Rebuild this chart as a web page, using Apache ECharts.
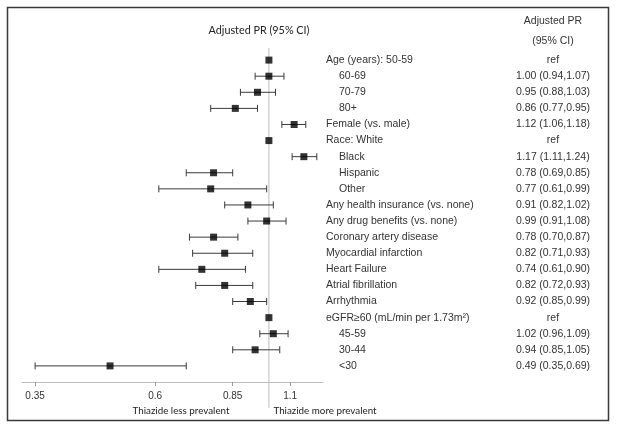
<!DOCTYPE html>
<html><head><meta charset="utf-8">
<script src="https://cdn.jsdelivr.net/npm/echarts@6/dist/echarts.min.js"></script>
<style>html,body{margin:0;padding:0;background:#fff}#c{width:617px;height:430px}</style>
</head><body><div id="c"></div>
<script>
// ---- data ----
const labels = [
  'Age (years): 50-59', '60-69', '70-79', '80+',
  'Female (vs. male)',
  'Race: White', 'Black', 'Hispanic', 'Other',
  'Any health insurance (vs. none)', 'Any drug benefits (vs. none)',
  'Coronary artery disease', 'Myocardial infarction', 'Heart Failure',
  'Atrial fibrillation', 'Arrhythmia',
  'eGFR\u226560 (mL/min per 1.73m\u00b2)', '45-59', '30-44', '<30'
];
const indented = [false, true, true, true, false, false, true, true, true,
  false, false, false, false, false, false, false, false, true, true, true];
const pr = [1, 1.00, 0.95, 0.86, 1.12, 1, 1.17, 0.78, 0.77, 0.91, 0.99,
  0.78, 0.82, 0.74, 0.82, 0.92, 1, 1.02, 0.94, 0.49];
const lo = [null, 0.94, 0.88, 0.77, 1.06, null, 1.11, 0.69, 0.61, 0.82, 0.91,
  0.70, 0.71, 0.61, 0.72, 0.85, null, 0.96, 0.85, 0.35];
const hi = [null, 1.07, 1.03, 0.95, 1.18, null, 1.24, 0.85, 0.99, 1.02, 1.08,
  0.87, 0.93, 0.90, 0.93, 0.99, null, 1.09, 1.05, 0.69];
const tickValues = [0.35, 0.6, 0.85, 1.1];
const tickLabels = ['0.35', '0.6', '0.85', '1.1'];
const axisMin = 0.33, axisMax = 1.275;

// ---- build ----
const ln = Math.log;
const fmt = v => v.toFixed(2);
const valueText = pr.map((p, i) => lo[i] == null ? 'ref' : fmt(p) + ' (' + fmt(lo[i]) + ',' + fmt(hi[i]) + ')');
const tickLn = tickValues.map(ln);
const calibri = 'Lato, "Open Sans", sans-serif';
const arial = '"Liberation Sans", Arial, sans-serif';

const chart = echarts.init(document.getElementById('c'), null, {renderer: 'canvas'});
const ciData = [];
pr.forEach((p, i) => { if (lo[i] != null) ciData.push([ln(lo[i]), i, ln(hi[i])]); });
const ptData = pr.map((p, i) => [ln(p), i]);

chart.setOption({
  animation: false,
  grid: {left: 22, right: 294, top: 44, height: 338},
  xAxis: {
    type: 'value', position: 'bottom', min: ln(axisMin), max: ln(axisMax),
    splitLine: {show: false},
    axisLine: {show: true, onZero: false, lineStyle: {color: '#bdbdbd', width: 1}},
    axisTick: {show: true, customValues: tickLn, length: 4, lineStyle: {color: '#9a9a9a'}},
    axisLabel: {
      customValues: tickLn, margin: 9, fontSize: 10, color: '#333', fontFamily: arial,
      formatter: v => {
        let best = 0;
        tickLn.forEach((t, k) => { if (Math.abs(t - v) < Math.abs(tickLn[best] - v)) best = k; });
        return tickLabels[best];
      }
    }
  },
  yAxis: {type: 'value', inverse: true, min: -1, max: 20, show: false},
  series: [
    {
      type: 'custom', name: 'refline', silent: true, z: 1,
      data: [[0, -0.75, 21.6]],
      renderItem: (params, api) => {
        const a = api.coord([api.value(0), api.value(1)]);
        const b = api.coord([api.value(0), api.value(2)]);
        return {type: 'line', shape: {x1: a[0], y1: a[1], x2: b[0], y2: b[1]},
          style: {stroke: '#bdbdbd', lineWidth: 1}};
      }
    },
    {
      type: 'custom', name: 'CI', silent: true, z: 2,
      data: ciData,
      renderItem: (params, api) => {
        const a = api.coord([api.value(0), api.value(1)]);
        const b = api.coord([api.value(2), api.value(1)]);
        const h = 3.5;
        const st = {stroke: '#3a3a3a', lineWidth: 1};
        return {type: 'group', children: [
          {type: 'line', shape: {x1: a[0], y1: a[1], x2: b[0], y2: b[1]}, style: st},
          {type: 'line', shape: {x1: a[0], y1: a[1] - h, x2: a[0], y2: a[1] + h}, style: st},
          {type: 'line', shape: {x1: b[0], y1: b[1] - h, x2: b[0], y2: b[1] + h}, style: st}
        ]};
      }
    },
    {
      type: 'scatter', name: 'PR', z: 3, symbol: 'rect', symbolSize: 7,
      itemStyle: {color: '#000'}, data: ptData
    },
    {
      type: 'custom', name: 'text', silent: true, z: 4,
      data: labels.map((l, i) => [0, i]),
      renderItem: (params, api) => {
        const i = params.dataIndex;
        const y = api.coord([0, api.value(1)])[1];
        return {type: 'group', children: [
          {type: 'text', x: indented[i] ? 339 : 326, y: y,
            style: {text: labels[i], fill: '#333', font: '10.5px ' + arial, textVerticalAlign: 'middle', textAlign: 'left'}},
          {type: 'text', x: 553, y: y,
            style: {text: valueText[i], fill: '#333', font: '10.5px ' + arial, textVerticalAlign: 'middle', textAlign: 'center'}}
        ]};
      }
    }
  ],
  graphic: [
    {type: 'rect', shape: {x: 7.5, y: 7.5, width: 601, height: 413},
      style: {fill: 'none', stroke: '#3a3a3a', lineWidth: 1.5}, silent: true},
    {type: 'text', x: 259, y: 31, style: {text: 'Adjusted PR (95% CI)', fill: '#222', font: '10.8px ' + calibri, textAlign: 'center', textVerticalAlign: 'middle'}},
    {type: 'text', x: 553, y: 21, style: {text: 'Adjusted PR', fill: '#333', font: '10.5px ' + arial, textAlign: 'center', textVerticalAlign: 'middle'}},
    {type: 'text', x: 553, y: 41, style: {text: '(95% CI)', fill: '#333', font: '10.5px ' + arial, textAlign: 'center', textVerticalAlign: 'middle'}},
    {type: 'text', x: 181, y: 411, style: {text: 'Thiazide less prevalent', fill: '#222', font: '9.8px ' + calibri, textAlign: 'center', textVerticalAlign: 'middle'}},
    {type: 'text', x: 325, y: 411, style: {text: 'Thiazide more prevalent', fill: '#222', font: '9.8px ' + calibri, textAlign: 'center', textVerticalAlign: 'middle'}}
  ]
});
</script>
</body></html>
